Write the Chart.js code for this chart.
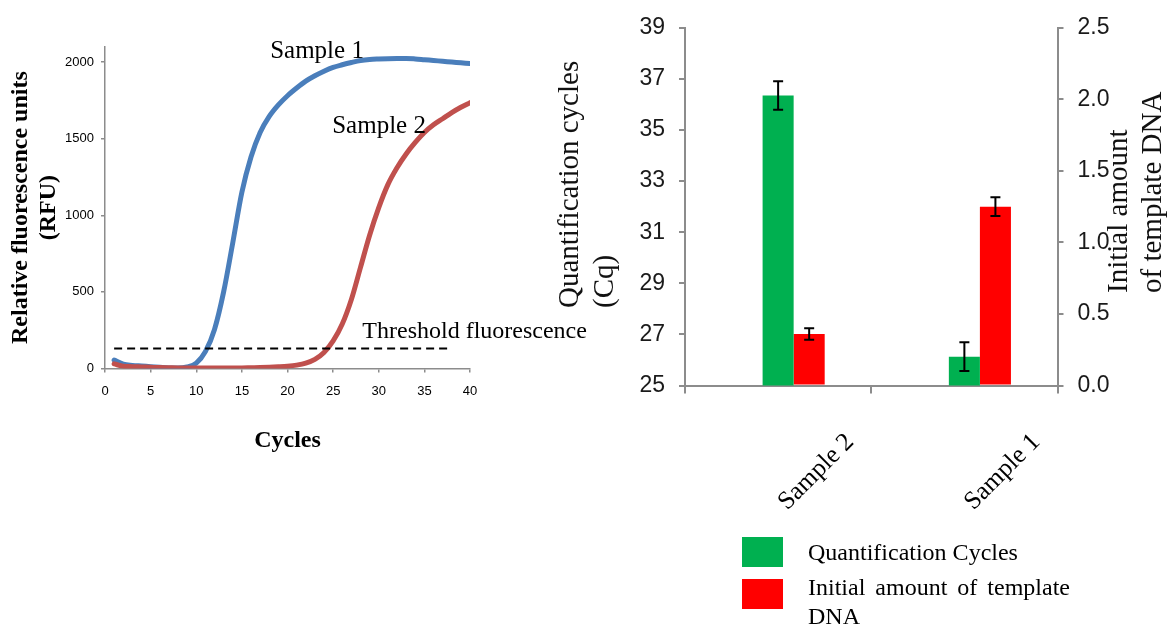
<!DOCTYPE html>
<html>
<head>
<meta charset="utf-8">
<script src="https://cdn.jsdelivr.net/npm/chart.js"></script>
<style>
  html, body { margin: 0; padding: 0; background: #fff; }
  #wrap { position: relative; width: 1170px; height: 630px; overflow: hidden; font-family: "Liberation Serif", "Times New Roman", serif; color: #000; }
  #left { position: absolute; left: 0; top: 0; }
  #right { position: absolute; left: 560px; top: 0; }
  .ytitle { position: absolute; white-space: nowrap; transform-origin: 0 0; transform: rotate(-90deg); font-size: 29px; color: #111; }
  #qTitle { left: 551px; top: 308px; line-height: 35px; }
  #dTitle { left: 1100px; top: 293px; line-height: 34px; }
  #legend { position: absolute; left: 742px; top: 537px; font-size: 24px; }
  .item { position: absolute; left: 0; display: flex; align-items: flex-start; }
  .box { width: 41px; height: 30px; flex: none; }
  .txt { margin-left: 25px; width: 262px; text-align: justify; line-height: 29px; }
  .item:nth-child(1) { top: 0; }
  .item:nth-child(1) .txt { margin-top: 1px; }
  .item:nth-child(2) { top: 42px; }
  .item:nth-child(2) .txt { margin-top: -6px; }
</style>
</head>
<body>
<div id="wrap">
  <canvas id="left" width="600" height="480"></canvas>
  <canvas id="right" width="610" height="630"></canvas>
  <div class="ytitle" id="qTitle">Quantification cycles<br>(Cq)</div>
  <div class="ytitle" id="dTitle">Initial amount<br>of template DNA</div>
  <div id="legend"></div>
</div>
<script>
const serif = '"Liberation Serif", "Times New Roman", serif';
const sans = '"Liberation Sans", Arial, sans-serif';
const axisGray = '#8c8c8c';

// amplification curves (RFU per cycle)
const cycles = [1, 2, 3, 4, 5, 6, 7, 8, 9, 10, 11, 12, 13, 14, 15, 16, 17, 18, 19, 20,
  21, 22, 23, 24, 25, 26, 27, 28, 29, 30, 31, 32, 33, 34, 35, 36, 37, 38, 39, 40];
const sample1 = [55, 28, 20, 16, 12, 8, 4, 3, 10, 35, 110, 255, 500, 820, 1150, 1380, 1540, 1645, 1720, 1780,
  1830, 1875, 1910, 1940, 1965, 1982, 1997, 2010, 2017, 2020, 2022, 2023, 2023, 2020, 2015, 2010, 2005, 2000, 1995, 1990];
const sample2 = [30, 15, 12, 10, 8, 6, 5, 4, 4, 3, 3, 3, 3, 4, 4, 5, 6, 8, 11, 15,
  22, 35, 60, 105, 180, 290, 450, 660, 870, 1050, 1200, 1310, 1400, 1475, 1540, 1590, 1630, 1670, 1705, 1735];
const rfuTicks = [0, 500, 1000, 1500, 2000];
const thresholdCycles = [1, 37.7];
const thresholdLevel = 130;

// labels written on the curve plot
const noteText = ['Sample 1', 'Sample 2', 'Threshold fluorescence'];
const noteCycle = [18.1, 24.9, 28.2];
const noteRfu = [2025, 1536, 199];
const noteSize = [25, 25, 24];

// bar chart
const samples = ['Sample 2', 'Sample 1'];
const cqValues = [36.35, 26.13];
const cqErrors = [0.56, 0.56];
const dnaValues = [0.36, 1.25];
const dnaErrors = [0.04, 0.065];

const notes = {
  id: 'notes',
  afterDatasetsDraw(chart) {
    const { ctx, scales: { x, y } } = chart;
    ctx.save();
    ctx.fillStyle = '#000';
    ctx.textBaseline = 'alphabetic';
    noteText.forEach((t, i) => {
      ctx.font = noteSize[i] + 'px ' + serif;
      ctx.fillText(t, x.getPixelForValue(noteCycle[i]), y.getPixelForValue(noteRfu[i]));
    });
    ctx.restore();
  }
};

const errorBars = {
  id: 'errorBars',
  afterDatasetsDraw(chart) {
    const ctx = chart.ctx;
    ctx.save();
    ctx.strokeStyle = '#000';
    ctx.lineWidth = 2;
    chart.data.datasets.forEach((ds, i) => {
      if (!ds.errors) return;
      const scale = chart.scales[ds.yAxisID];
      chart.getDatasetMeta(i).data.forEach((bar, j) => {
        const top = scale.getPixelForValue(ds.data[j] + ds.errors[j]);
        const bot = scale.getPixelForValue(ds.data[j] - ds.errors[j]);
        ctx.beginPath();
        ctx.moveTo(bar.x, top); ctx.lineTo(bar.x, bot);
        ctx.moveTo(bar.x - 5, top); ctx.lineTo(bar.x + 5, top);
        ctx.moveTo(bar.x - 5, bot); ctx.lineTo(bar.x + 5, bot);
        ctx.stroke();
      });
    });
    ctx.restore();
  }
};

new Chart(document.getElementById('left'), {
  type: 'line',
  data: {
    datasets: [
      {
        label: 'Sample 1',
        data: cycles.map((c, i) => ({ x: c, y: sample1[i] })),
        borderColor: '#4a7ebb', borderWidth: 5, pointRadius: 0,
        cubicInterpolationMode: 'monotone', borderCapStyle: 'round', order: 3
      },
      {
        label: 'Sample 2',
        data: cycles.map((c, i) => ({ x: c, y: sample2[i] })),
        borderColor: '#c0504d', borderWidth: 5, pointRadius: 0,
        cubicInterpolationMode: 'monotone', borderCapStyle: 'round', order: 2
      },
      {
        label: 'Threshold fluorescence',
        data: thresholdCycles.map(c => ({ x: c, y: thresholdLevel })),
        borderColor: '#000', borderWidth: 2, borderDash: [8, 5], pointRadius: 0, order: 1
      }
    ]
  },
  options: {
    responsive: false,
    animation: false,
    layout: { padding: { top: 46.7, right: 130, left: 0, bottom: 0 } },
    plugins: { legend: { display: false }, tooltip: { enabled: false } },
    scales: {
      x: {
        type: 'linear', min: 0, max: 40,
        ticks: { stepSize: 5, padding: 11, color: '#000', font: { family: sans, size: 13 } },
        grid: { drawOnChartArea: false, tickLength: 4, color: axisGray, lineWidth: 1.5 },
        border: { color: axisGray, width: 1.5 },
        title: { display: true, text: 'Cycles', color: '#000', padding: { bottom: 25 }, font: { family: serif, size: 24, weight: 'bold' } },
        afterFit: s => { s.height = 111.5; }
      },
      y: {
        min: 0, max: 2100,
        afterBuildTicks: s => { s.ticks = rfuTicks.map(v => ({ value: v })); },
        ticks: { padding: 7, color: '#000', font: { family: sans, size: 13 }, callback: v => String(v) },
        grid: { drawOnChartArea: false, tickLength: 4, color: axisGray, lineWidth: 1.5 },
        border: { color: axisGray, width: 1.5 },
        title: {
          display: true, text: ['Relative fluorescence units', '(RFU)'], color: '#000',
          padding: { top: 6 }, font: { family: serif, size: 24, weight: 'bold', lineHeight: 1.2 }
        },
        afterFit: s => { s.width = 105; }
      }
    }
  },
  plugins: [notes]
});

const barChart = new Chart(document.getElementById('right'), {
  type: 'bar',
  data: {
    labels: samples,
    datasets: [
      { label: '', data: [null, null], yAxisID: 'y', backgroundColor: 'rgba(0,0,0,0)' },
      { label: 'Quantification Cycles', data: cqValues, errors: cqErrors, yAxisID: 'y', backgroundColor: '#00b050' },
      { label: 'Initial amount of template DNA', data: dnaValues, errors: dnaErrors, yAxisID: 'y1', backgroundColor: '#ff0000' }
    ]
  },
  options: {
    responsive: false,
    animation: false,
    datasets: { bar: { categoryPercentage: 0.5, barPercentage: 1.0 } },
    layout: { padding: { top: 24.5, right: 0, left: 0, bottom: 0 } },
    plugins: { legend: { display: false }, tooltip: { enabled: false } },
    scales: {
      x: {
        ticks: { minRotation: 45, maxRotation: 45, labelOffset: 72, padding: 34, color: '#000', font: { family: serif, size: 25.5 } },
        grid: { offset: true, drawOnChartArea: false, tickLength: 8, color: axisGray, lineWidth: 2 },
        border: { color: axisGray, width: 2 },
        afterFit: s => { s.height = 244.5; }
      },
      y: {
        position: 'left', min: 25, max: 39,
        ticks: { stepSize: 2, padding: 14, color: '#1a1a1a', font: { family: sans, size: 23 } },
        grid: { drawOnChartArea: false, tickLength: 6, color: axisGray, lineWidth: 2 },
        border: { color: axisGray, width: 2 },
        afterFit: s => { s.width = 125; }
      },
      y1: {
        position: 'right', min: 0, max: 2.5,
        ticks: { stepSize: 0.5, padding: 14, color: '#1a1a1a', font: { family: sans, size: 23 }, callback: v => v.toFixed(1) },
        grid: { drawOnChartArea: false, tickLength: 6, color: axisGray, lineWidth: 2 },
        border: { color: axisGray, width: 2 },
        afterFit: s => { s.width = 112.5; }
      }
    }
  },
  plugins: [errorBars]
});

// legend built from the bar datasets
const legend = document.getElementById('legend');
barChart.data.datasets.filter(d => d.label).forEach(d => {
  const row = document.createElement('div');
  row.className = 'item';
  row.innerHTML = '<span class="box" style="background:' + d.backgroundColor + '"></span><span class="txt">' + d.label + '</span>';
  legend.appendChild(row);
});
</script>
</body>
</html>
